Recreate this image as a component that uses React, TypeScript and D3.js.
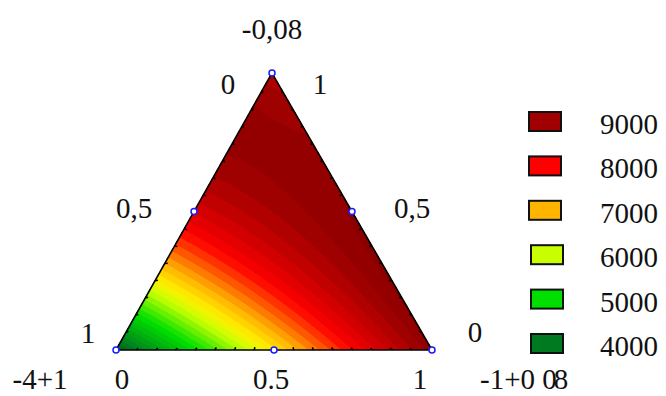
import { useEffect, useRef } from "react";
import * as d3 from "d3";

// design points of the simplex lattice: [top, left, right] proportions
const designPoints = [
  [1, 0, 0],
  [0, 1, 0],
  [0, 0, 1],
  [0.5, 0.5, 0],
  [0.5, 0, 0.5],
  [0, 0.5, 0.5],
];
// response at each design point
const responses = [8800, 3600, 9200, 8400, 9300, 6700];

const legendLevels = [9000, 8000, 7000, 6000, 5000, 4000];
const legendColors = ["#a00000", "#ff0000", "#ffb400", "#c8ff00", "#00e000", "#007a20"];

const scaleStops = [3500, 4000, 5300, 6200, 6600, 7100, 8000, 9000, 9600];
const scaleColors = ["#005818", "#007a20", "#00e000", "#c8ff00", "#fff000", "#ffb400", "#ff0000", "#a00000", "#7a0000"];

const topTicks = ["0", "1"];
const sideTicks = ["0,5", "0,5"];
const cornerTicks = ["1", "0"];
const bottomTicks = ["0", "0.5", "1"];
const axisTitles = ["-0,08", "-4+1", "-1+0 0"];

const App = () => {
  const ref = useRef<SVGSVGElement>(null);

  useEffect(() => {
    const width = 666;
    const height = 396;
    const svg = d3.select(ref.current).attr("width", width).attr("height", height);
    svg.selectAll("*").remove();

    // triangle corners
    const T: [number, number] = [272, 73];
    const L: [number, number] = [116, 350];
    const R: [number, number] = [432, 350];

    // quadratic Scheffe model from the six design points
    const [y1, y2, y3, y12, y13, y23] = responses;
    const b12 = 4 * y12 - 2 * (y1 + y2);
    const b13 = 4 * y13 - 2 * (y1 + y3);
    const b23 = 4 * y23 - 2 * (y2 + y3);
    const model = (a: number, b: number, c: number) =>
      y1 * a + y2 * b + y3 * c + b12 * a * b + b13 * a * c + b23 * b * c;

    const det = (L[1] - R[1]) * (T[0] - R[0]) + (R[0] - L[0]) * (T[1] - R[1]);
    const bary = (x: number, y: number) => {
      const a = ((L[1] - R[1]) * (x - R[0]) + (R[0] - L[0]) * (y - R[1])) / det;
      const b = ((R[1] - T[1]) * (x - R[0]) + (T[0] - R[0]) * (y - R[1])) / det;
      return [a, b, 1 - a - b];
    };
    const point = (w: number[]) => [
      w[0] * T[0] + w[1] * L[0] + w[2] * R[0],
      w[0] * T[1] + w[1] * L[1] + w[2] * R[1],
    ];

    const color = d3.scaleLinear<string>().domain(scaleStops).range(scaleColors).clamp(true);

    // grid of model values over the triangle's box
    const step = 2;
    const x0 = 108;
    const y0 = 66;
    const nx = Math.ceil((440 - x0) / step);
    const ny = Math.ceil((358 - y0) / step);
    const values = new Array(nx * ny);
    for (let j = 0; j < ny; j++) {
      for (let i = 0; i < nx; i++) {
        const [a, b, c] = bary(x0 + (i + 0.5) * step, y0 + (j + 0.5) * step);
        values[j * nx + i] = model(a, b, c);
      }
    }
    const thresholds = d3.range(1000, 9800, 180);
    const contours = d3.contours().size([nx, ny]).thresholds(thresholds)(values);
    const path = d3.geoPath(d3.geoIdentity().scale(step).translate([x0, y0]));

    svg
      .append("defs")
      .append("clipPath")
      .attr("id", "tri")
      .append("polygon")
      .attr("points", [T, L, R].map((p) => p.join(",")).join(" "));

    svg
      .append("g")
      .attr("clip-path", "url(#tri)")
      .selectAll("path")
      .data(contours)
      .join("path")
      .attr("d", path as any)
      .attr("fill", (d) => color(d.value + 90));

    // outline
    svg
      .append("polygon")
      .attr("points", [T, L, R].map((p) => p.join(",")).join(" "))
      .attr("fill", "none")
      .attr("stroke", "#000")
      .attr("stroke-width", 1.6);

    // tick marks along each edge, pointing inward
    const centroid = [(T[0] + L[0] + R[0]) / 3, (T[1] + L[1] + R[1]) / 3];
    const edges = [
      [L, R],
      [L, T],
      [T, R],
    ];
    const tickData: number[][] = [];
    edges.forEach(([p, q]) => {
      d3.range(1, 16).forEach((k) => {
        const t = k / 16;
        const x = p[0] + (q[0] - p[0]) * t;
        const y = p[1] + (q[1] - p[1]) * t;
        const dx = centroid[0] - x;
        const dy = centroid[1] - y;
        const len = Math.hypot(dx, dy);
        tickData.push([x, y, x + (dx / len) * 3, y + (dy / len) * 3]);
      });
    });
    svg
      .append("g")
      .selectAll("line")
      .data(tickData)
      .join("line")
      .attr("x1", (d) => d[0])
      .attr("y1", (d) => d[1])
      .attr("x2", (d) => d[2])
      .attr("y2", (d) => d[3])
      .attr("stroke", "#000")
      .attr("stroke-width", 1.5);

    // design points
    svg
      .append("g")
      .selectAll("circle")
      .data(designPoints)
      .join("circle")
      .attr("cx", (d) => point(d)[0])
      .attr("cy", (d) => point(d)[1])
      .attr("r", 3)
      .attr("fill", "#fff")
      .attr("stroke", "#1a1aff")
      .attr("stroke-width", 1.5);

    // labels
    const font = "'Liberation Serif', 'Times New Roman', serif";
    const labels = svg
      .append("g")
      .attr("font-family", font)
      .attr("font-size", 29)
      .attr("fill", "#111")
      .attr("text-anchor", "middle");
    const addText = (x: number, y: number, s: string) =>
      labels.append("text").attr("x", x).attr("y", y).text(s);

    addText(272, 39, axisTitles[0]);
    addText(228, 94, topTicks[0]);
    addText(320, 94, topTicks[1]);
    addText(134, 218, sideTicks[0]);
    addText(412, 218, sideTicks[1]);
    addText(88, 343, cornerTicks[0]);
    addText(475, 342, cornerTicks[1]);
    addText(40, 389, axisTitles[1]);
    const bx = d3.scaleLinear().domain([0, 1]).range([122, 420]);
    bottomTicks.forEach((s) => addText(bx(+s), 389, s));
    const last = addText(480, 389, axisTitles[2]).attr("text-anchor", "start");
    last.append("tspan").attr("dx", -3).text("8");

    // legend
    const ly = d3.scaleLinear().domain([0, 5]).range([112, 334]);
    const legend = svg.append("g");
    legend
      .selectAll("rect")
      .data(legendLevels)
      .join("rect")
      .attr("x", (d, i) => (i < 3 ? 529 : 531))
      .attr("y", (d, i) => ly(i))
      .attr("width", 32)
      .attr("height", 19)
      .attr("fill", (d, i) => legendColors[i])
      .attr("stroke", "#111")
      .attr("stroke-width", 2);
    legend
      .selectAll("text")
      .data(legendLevels)
      .join("text")
      .attr("x", 600)
      .attr("y", (d, i) => ly(i) + 22)
      .attr("font-family", font)
      .attr("font-size", 29)
      .attr("fill", "#111")
      .text((d) => d);
  }, []);

  return (
    <svg
      ref={ref}
      style={{ position: "absolute", left: 0, top: 0, background: "#fff" }}
    />
  );
};

export default App;
